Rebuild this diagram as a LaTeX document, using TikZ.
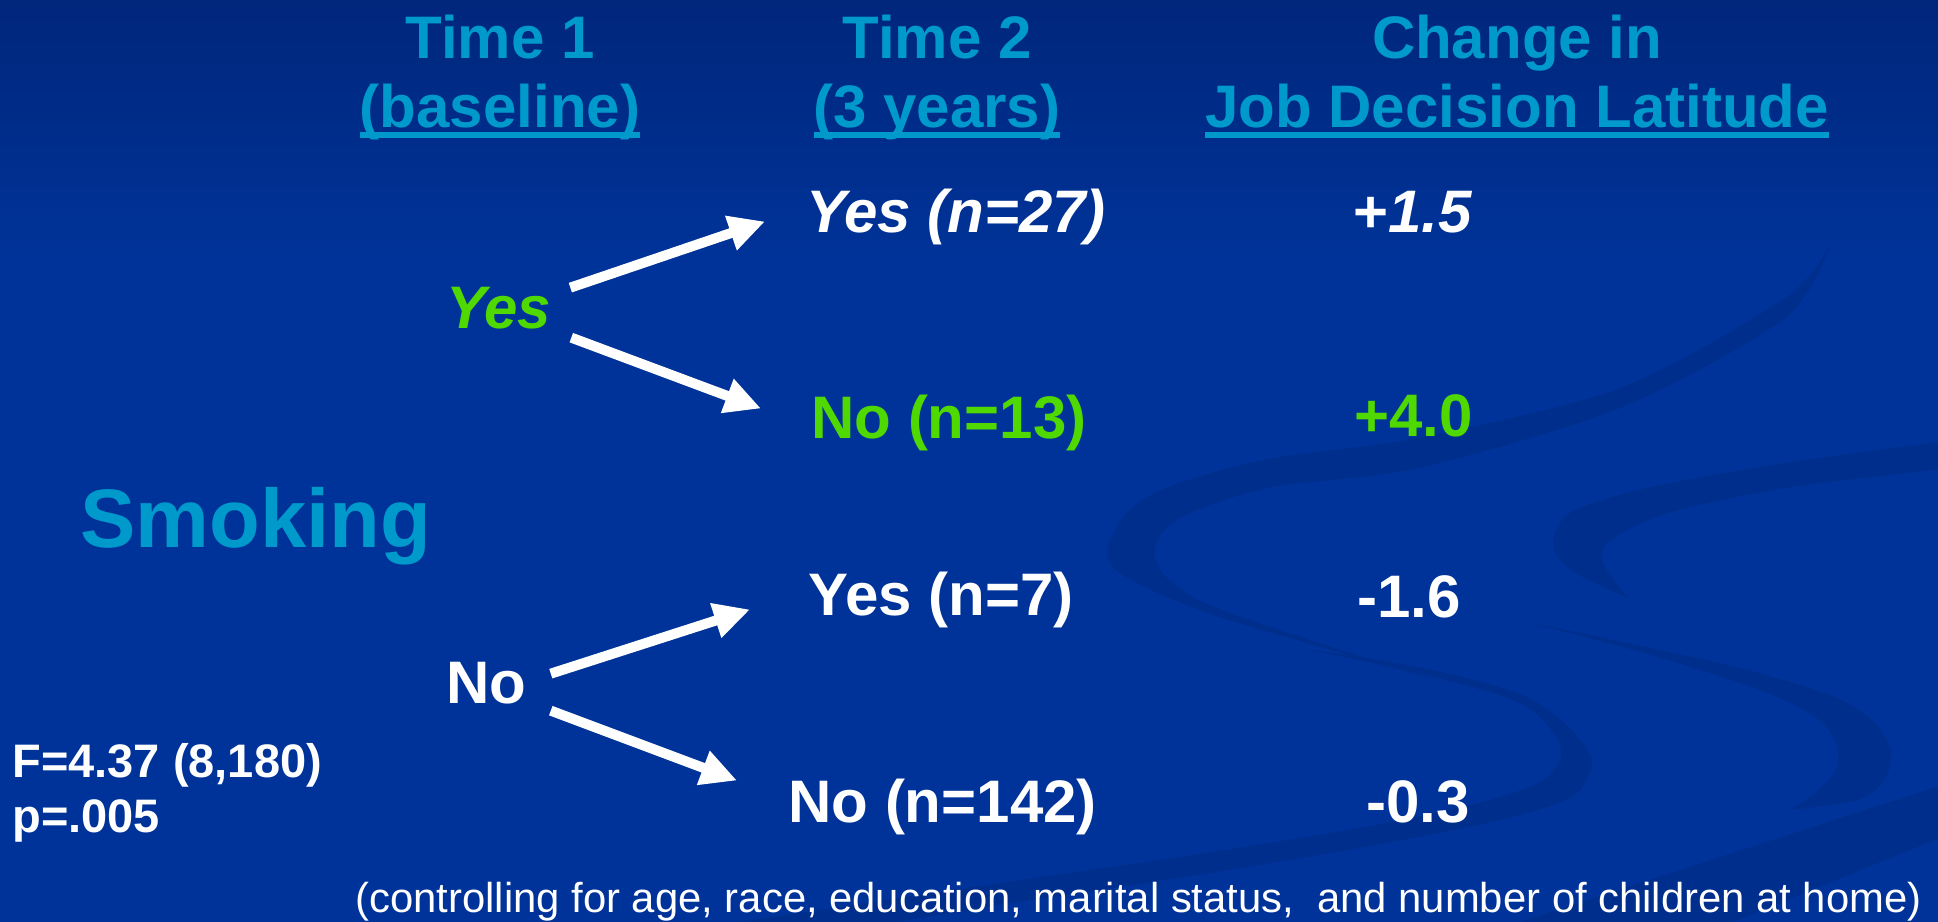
\documentclass[tikz,border=0pt]{standalone}
\usepackage{fontspec}
\setmainfont{Liberation Sans}
\usepackage{xcolor}
\definecolor{bgblue}{RGB}{0,51,153}
\definecolor{bgtop}{RGB}{0,38,122}
\definecolor{swirl}{RGB}{0,46,140}
\definecolor{ccyan}{RGB}{0,153,204}
\definecolor{cgreen}{RGB}{80,217,0}
\usetikzlibrary{arrows.meta}
% thick underline under a header line
\newsavebox\ulbox
\newcommand{\hdrul}[1]{\sbox\ulbox{#1}\rlap{\rule[-5.5pt]{\wd\ulbox}{3pt}}\usebox\ulbox}
\tikzset{
Txt/.style={
	inner sep=0pt,
	anchor=base west,
	text=white,
	font=\fontsize{30pt}{34pt}\selectfont\bfseries
},
Header/.style={
	Txt,
	anchor=base,
	text=ccyan
},
Branch/.style={
	Txt
},
ItBranch/.style={
	Txt,
	font=\fontsize{30pt}{34pt}\selectfont\bfseries\itshape
},
MarkedBranch/.style={
	Txt,
	text=cgreen
},
Stat/.style={
	Txt,
	font=\fontsize{23.5pt}{27pt}\selectfont\bfseries
},
Note/.style={
	Txt,
	anchor=base east,
	font=\fontsize{20.9pt}{25pt}\selectfont
},
Arrow/.style={
	draw=white,
	line width=5pt,
	-{Triangle[length=18pt,width=17pt]}
},
Swirl/.style={
	fill=swirl
}
}

\begin{document}
\begin{tikzpicture}[x=0.5pt, y=-0.5pt]
	\useasboundingbox (0,0) rectangle (1938,921);
	\fill[bgblue] (-10,-10) rectangle (1948,931);
	\shade[top color=bgtop, bottom color=bgblue] (-10,-10) rectangle (1948,260);

	% ribbons in the background
	\begin{scope}
		\clip (0,0) rectangle (1938,921);
		\fill[Swirl] plot[smooth] coordinates {(1830,245) (1785,298) (1620,388) (1418,438) (1273,458) (1173,485) (1127,512) (1107,553) (1127,578) (1207,613) (1307,643) (1450,684)}
			-- plot[smooth] coordinates {(1450,684) (1307,639) (1207,604) (1167,578) (1155,555) (1162,533) (1192,512) (1273,487) (1418,468) (1620,408) (1785,318) (1830,245)} -- cycle;
		\fill[Swirl] plot[smooth] coordinates {(1300,648) (1418,667) (1518,693) (1561,720) (1588,750) (1591,770) (1575,795) (1538,810) (1478,825) (1359,848) (1179,878) (1000,905) (700,955)}
			-- plot[smooth] coordinates {(700,928) (1000,883) (1179,857) (1359,828) (1478,803) (1538,783) (1560,760) (1555,735) (1518,702) (1418,673) (1300,648)} -- cycle;
		\fill[Swirl] plot[smooth] coordinates {(1945,441) (1785,463) (1651,487) (1575,510) (1555,533) (1555,553) (1575,573) (1628,598)}
			-- plot[smooth] coordinates {(1628,598) (1603,563) (1611,540) (1668,513) (1785,488) (1945,469)} -- cycle;
		\fill[Swirl] plot[smooth] coordinates {(1528,622) (1651,648) (1751,671) (1835,697) (1875,723) (1891,753) (1884,780) (1858,800) (1790,810)}
			-- plot[smooth] coordinates {(1790,810) (1815,793) (1836,770) (1836,743) (1815,717) (1760,690) (1651,655) (1528,622)} -- cycle;
		\fill[Swirl] (1480,935) -- (1945,784) -- (1945,836) -- (1700,935) -- cycle;
	\end{scope}

	% column heads
	\node[Header] (time1) at (500,58) {Time 1};
	\node[Header] (base1) at (500,127) {\hdrul{(baseline)}};
	\node[Header] (time2) at (937,58) {Time 2};
	\node[Header] (years) at (937,127) {\hdrul{(3 years)}};
	\node[Header] (chg) at (1517,58) {Change in};
	\node[Header] (jdl) at (1517,127) {\hdrul{Job Decision Latitude}};

	\node[Header, anchor=base west, font=\fontsize{41.5pt}{46pt}\selectfont\bfseries] (smoking) at (80,547) {Smoking};

	% time 1
	\node[MarkedBranch, font=\fontsize{30pt}{34pt}\selectfont\bfseries\itshape] (t1yes) at (446,328) {Yes};
	\node[Branch] (t1no) at (446,703) {No};

	% time 2
	\node[ItBranch] (yes27) at (806,232) {Yes (n=27)};
	\node[MarkedBranch] (no13) at (811,438) {No (n=13)};
	\node[Branch] (yes7) at (808,615) {Yes (n=7)};
	\node[Branch] (no142) at (788,822) {No (n=142)};

	% change
	\node[Branch] (d1) at (1353,232) {+\textit{1.5}};
	\node[MarkedBranch] (d2) at (1354,436) {+4.0};
	\node[Branch] (d3) at (1357,617) {-1.6};
	\node[Branch] (d4) at (1366,822) {-0.3};

	\draw[Arrow] ([shift={(19,-20)}]t1yes.east) -- ([shift={(-41,5)}]yes27.west);
	\draw[Arrow] ([shift={(20,30)}]t1yes.east) -- ([shift={(-50,-14)}]no13.west);
	\draw[Arrow] ([shift={(24,-9)}]t1no.east) -- ([shift={(-58,10)}]yes7.west);
	\draw[Arrow] ([shift={(24,28)}]t1no.east) -- ([shift={(-51,-26)}]no142.west);

	\node[Stat] (fstat) at (12,777) {F=4.37 (8,180)};
	\node[Stat] (pval) at (12,832) {p=.005};
	\node[Note] (note) at (1922,912) {(controlling for age, race, education, marital status,\ \ and number of children at home)};
\end{tikzpicture}
\end{document}
